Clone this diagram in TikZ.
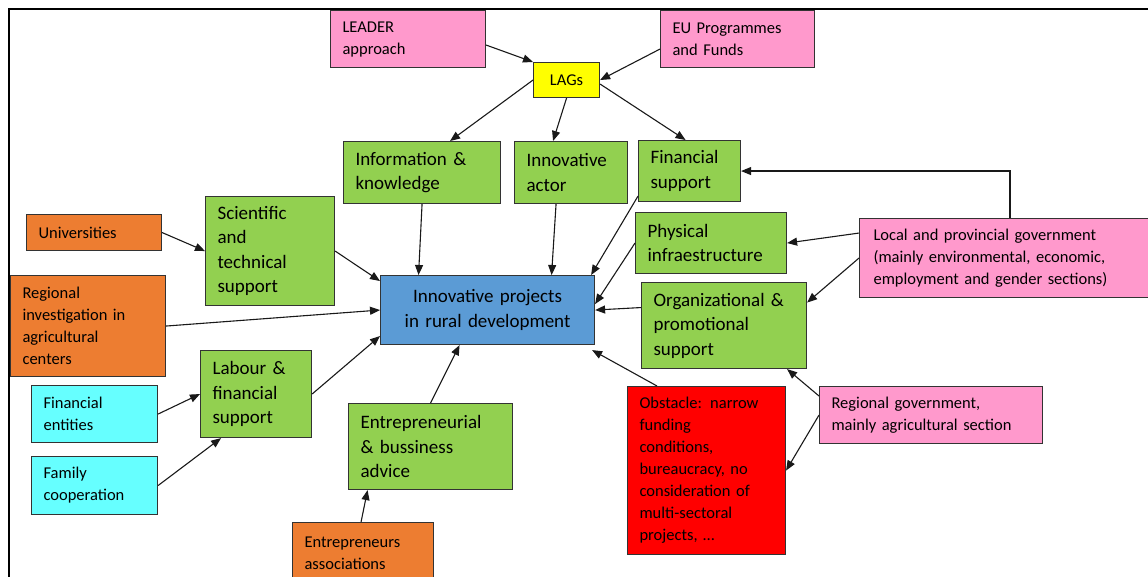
\documentclass[tikz,border=0pt]{standalone}
\usepackage{fontspec}
\setmainfont{Carlito}
\usepackage{xcolor}
\usepackage{tikz}
\usetikzlibrary{arrows.meta}
\definecolor{boxpink}{HTML}{FF99CC}
\definecolor{boxgreen}{HTML}{92D050}
\definecolor{boxorange}{HTML}{ED7D31}
\definecolor{boxcyan}{HTML}{66FFFF}
\definecolor{boxyellow}{HTML}{FFFF00}
\definecolor{boxred}{HTML}{FF0000}
\definecolor{boxblue}{HTML}{5B9BD5}
\tikzset{
    box/.style = {rectangle, draw=black!80, line width=1.1pt, anchor=north west, align=left,
                  inner xsep=12pt, inner ysep=0pt, text=black,
                  font=\fontsize{16.5}{22}\selectfont},
    pink_box/.style = {box, fill=boxpink},
    orange_box/.style = {box, fill=boxorange},
    cyan_box/.style = {box, fill=boxcyan},
    red_box/.style = {box, fill=boxred},
    green_box/.style = {box, fill=boxgreen, font=\fontsize{19}{24.5}\selectfont},
    lags_box/.style = {box, fill=boxyellow, align=center, inner xsep=0pt},
    main_box/.style = {box, fill=boxblue, align=center, inner xsep=0pt, font=\fontsize{19}{25}\selectfont},
    link/.style = {->, line width=1.1pt, black!90}
}

\begin{document}
\begin{tikzpicture}[x=1pt, y=-1pt, >={Triangle[length=10pt,width=8pt]}]
    \useasboundingbox (0,0) rectangle (1148,577);
    \draw[line width=2.2pt] (9,580) -- (9,9) -- (1150,9);

    % top row
    \node [pink_box, text width=131pt, minimum height=57pt] (leader) at (330,10) {LEADER\\approach};
    \node [pink_box, text width=130pt, minimum height=57pt] (eu) at (660,10) {EU Programmes\\and Funds};
    \node [lags_box, text width=66pt, minimum height=35pt] (lags) at (533,62) {LAGs};

    % resources
    \node [green_box, text width=133pt, minimum height=62pt] (info) at (343,141) {Information \&\\knowledge};
    \node [green_box, text width=89pt, minimum height=62pt] (actor) at (514,141) {Innovative\\actor};
    \node [green_box, text width=78pt, minimum height=61pt] (finsup) at (638,140) {Financial\\support};
    \node [green_box, text width=127pt, minimum height=61pt] (physical) at (635,212) {Physical\\infraestructure};
    \node [green_box, text width=141pt, minimum height=86pt] (org) at (641,282) {Organizational \&\\promotional\\support};
    \node [green_box, text width=105pt, minimum height=109pt] (sci) at (205,196) {Scientific\\and\\technical\\support};
    \node [green_box, text width=87pt, minimum height=87pt] (labour) at (200,350) {Labour \&\\financial\\support};
    \node [green_box, text width=140pt, minimum height=86pt] (entre) at (348,403) {Entrepreneurial\\\& bussiness\\advice};

    % centre
    \node [main_box, text width=214pt, minimum height=69pt] (projects) at (380,275) {Innovative projects\\in rural development};

    % actors around
    \node [pink_box, inner xsep=14pt, text width=263pt, minimum height=79pt] (localgov) at (859,218)
        {Local and provincial government\\(mainly environmental, economic,\\employment and gender sections)};
    \node [pink_box, text width=199pt, minimum height=57pt] (reggov) at (819,386) {Regional government,\\mainly agricultural section};
    \node [red_box, text width=134pt, minimum height=168pt] (obstacle) at (627,386)
        {Obstacle: narrow\\funding\\conditions,\\bureaucracy, no\\consideration of\\multi-sectoral\\projects, \dots};
    \node [orange_box, text width=117pt, minimum height=62pt] (assoc) at (292,522) {Entrepreneurs\\associations};
    \node [orange_box, text width=111pt, minimum height=36pt] (univ) at (26,214) {Universities};
    \node [orange_box, text width=131pt, minimum height=101pt] (reginv) at (10,275)
        {Regional\\investigation in\\agricultural\\centers};
    \node [cyan_box, text width=102pt, minimum height=57pt] (finent) at (31,385) {Financial\\entities};
    \node [cyan_box, text width=102pt, minimum height=58pt] (family) at (31,456) {Family\\cooperation};

    % links
    \draw [link] ([yshift=-6pt]leader.east) -- (lags.north west);
    \draw [link] ([yshift=-10pt]eu.west) -- (lags.east);
    \draw [link] (lags.west) -- ([xshift=28pt]info.north);
    \draw [link] (lags.south) -- ([xshift=-18pt]actor.north);
    \draw [link] ([yshift=-4pt]lags.east) -- ([xshift=-4pt]finsup.north);
    \draw [link] ([xshift=151pt]localgov.north west) |- (finsup.east);
    \draw [link] ([yshift=25pt]localgov.west) -- (physical.east);
    \draw [link] (localgov.west) -- ([yshift=23pt]org.east);
    \draw [link] ([yshift=-10pt]reggov.north west) -- ([xshift=-20pt]org.south east);
    \draw [link] (reggov.west) -- (obstacle.east);
    \draw [link] (info.south) -- ([xshift=-69pt]projects.north);
    \draw [link] ([xshift=-15pt]actor.south) -- ([xshift=64pt]projects.north);
    \draw [link] ([yshift=6pt]finsup.south west) -- ([xshift=-4pt]projects.north east);
    \draw [link] (physical.west) -- ([yshift=6pt]projects.east);
    \draw [link] ([yshift=18pt]org.west) -- (projects.east);
    \draw [link] ([xshift=30pt]obstacle.north west) -- ([xshift=-3pt,yshift=-5pt]projects.south east);
    \draw [link] (entre.north) -- ([xshift=-28pt]projects.south);
    \draw [link] ([xshift=-2pt]assoc.north) -- ([xshift=-63pt]entre.south);
    \draw [link] (labour.east) -- ([yshift=-26pt]projects.west);
    \draw [link] (reginv.east) -- (projects.west);
    \draw [link] (sci.east) -- ([yshift=29pt]projects.west);
    \draw [link] (univ.east) -- (sci.west);
    \draw [link] (finent.east) -- (labour.west);
    \draw [link] (family.east) -- ([xshift=-35pt]labour.south);
\end{tikzpicture}
\end{document}
